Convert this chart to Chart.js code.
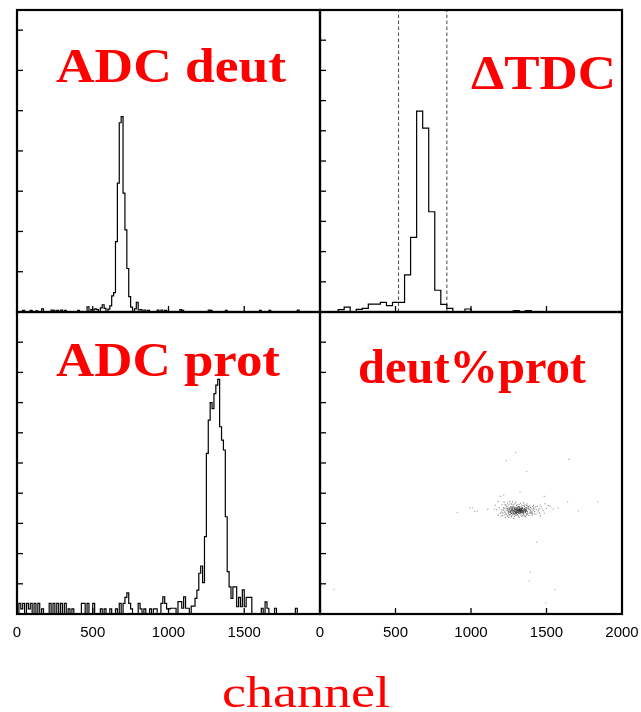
<!DOCTYPE html>
<html><head><meta charset="utf-8">
<script src="https://cdn.jsdelivr.net/npm/chart.js@4/dist/chart.umd.min.js"></script>
<style>
html,body{margin:0;padding:0;background:#fff;}
#wrap{position:relative;width:641px;height:712px;overflow:hidden;background:#fff;}
#wrap canvas{position:absolute;left:0;top:0;}
</style></head><body>
<div id="wrap">
<canvas id="cTL" width="641" height="712"></canvas>
<canvas id="cTR" width="641" height="712"></canvas>
<canvas id="cBL" width="641" height="712"></canvas>
<canvas id="cBR" width="641" height="712"></canvas>
</div>
<script>
// ---------------- DATA ----------------
const channelRange = [0, 2000];
const xTickValues = [500, 1000, 1500];
const leftTickLabels = [0, 500, 1000, 1500];
const rightTickLabels = [0, 500, 1000, 1500, 2000];

// ADC deut histogram (bin width 12.5 channels): bin lower edges and contents
const deutBinWidth = 12.5;
const deutEdges = [37.5, 87.5, 125, 162.5, 225, 237.5, 262.5, 287.5, 312.5, 400, 462.5, 487.5, 500, 512.5, 525, 550, 562.5, 575, 600,
  612.5, 625, 637.5, 650, 662.5, 675, 687.5, 700, 712.5, 725, 737.5, 750,
  775, 787.5, 800, 812.5, 837.5, 862.5, 925, 950, 975, 1075, 1087.5, 1262.5, 1275, 1375, 1600, 1662.5, 1850];
const deutCounts = [0.4, 0.4, 0.3, 0.8, 0.5, 0.4, 0.4, 0.5, 0.4, 0.4, 1.3, 0.6, 0.5, 0.8, 0.6, 1.0, 1.8, 0.9, 0.7,
  1.5, 4.0, 4.8, 17.5, 32, 47, 48.5, 29.5, 20.4, 10.8, 3.8, 1.2,
  0.8, 2.4, 0.5, 0.6, 0.5, 0.4, 0.5, 0.5, 0.4, 0.6, 0.4, 0.5, 0.4, 0.4, 0.4, 0.4, 0.5];
const deutYMax = 75;
const deutYTicks = [10, 20, 30, 40, 50, 60, 70];

// Delta TDC histogram (bin width 40 channels)
const tdcBinWidth = 40;
const tdcEdges = [120, 160, 240, 280, 320, 360, 400, 440, 480, 520, 560, 600, 640, 680, 720, 760, 800, 840, 960, 1280, 1360];
const tdcCounts = [0.8, 1.6, 0.9, 1.2, 2.6, 2.6, 3.2, 2.1, 3.2, 3.2, 12.3, 24.7, 66.5, 60.9, 33.2, 7.2, 2.5, 1.2, 1.0, 0.5, 0.5];
const tdcCuts = [520, 840];
const tdcYMax = 100;
const tdcYTicks = [10, 20, 30, 40, 50, 60, 70, 80, 90];

// ADC prot histogram (bin width 12.5 channels)
const protBinWidth = 12.5;
const protEdges = [12.5, 25, 37.5, 62.5, 75, 87.5, 112.5, 137.5, 162.5, 212.5, 237.5, 262.5, 287.5, 312.5, 337.5, 362.5,
  425, 437.5, 462.5, 500, 550, 575, 612.5, 650, 675, 700, 712.5, 725, 737.5, 750, 800, 812.5, 837.5, 875, 900, 912.5,
  950, 962.5, 975, 987.5, 1000, 1012.5, 1025, 1037.5, 1062.5, 1075, 1087.5, 1100, 1112.5, 1125,
  1150, 1162.5, 1175, 1187.5, 1200, 1212.5, 1225, 1237.5, 1250, 1262.5, 1275, 1287.5, 1300, 1312.5, 1325, 1337.5,
  1350, 1362.5, 1375, 1387.5, 1400, 1412.5, 1425, 1437.5, 1450, 1462.5, 1475, 1487.5, 1500, 1512.5, 1525, 1537.5,
  1612.5, 1637.5, 1650, 1700, 1837.5];
const protCounts = [3.5, 1.7, 3.5, 3.5, 1.7, 3.5, 3.5, 3.5, 1.7, 3.5, 3.5, 3.5, 3.5, 3.5, 1.7, 1.7,
  3.5, 3.5, 3.5, 3.5, 1.7, 1.7, 1.7, 1.7, 3.5, 3.5, 5.5, 7.0, 3.5, 1.7, 3.5, 1.7, 1.7, 1.7, 1.7, 1.7,
  3.5, 5.7, 3.5, 1.7, 1.7, 1.9, 1.9, 1.9, 4.1, 4.1, 1.9, 5.7, 1.9, 1.9,
  2.6, 2.6, 5.2, 7.9, 13.5, 15.9, 10.4, 25.6, 53.2, 64.2, 70, 68, 73, 75.8, 77.7, 62,
  57.6, 54.3, 32.2, 14, 9, 5.2, 9, 9, 2.4, 5.5, 2.4, 8, 2.4, 5.5, 5.5, 5.5,
  1.9, 4.0, 1.9, 1.9, 1.9];
const protYMax = 100;
const protYTicks = [10, 20, 30, 40, 50, 60, 70, 80, 90];

// deut vs prot scatter (x = prot channel, y = deut channel)
const corePoints = [
  [1248,668],[1255,690],[1262,676],[1270,701],[1276,662],[1281,684],[1288,695],[1293,671],[1299,688],[1305,706],[1311,679],[1316,692],
  [1322,665],[1328,700],[1333,683],[1339,672],[1345,694],[1351,681],[1357,699],[1362,670],[1368,688],[1374,677],[1380,695],
  [1252,703],[1259,659],[1266,688],[1273,680],[1279,713],[1285,657],[1291,706],[1297,663],[1302,676],[1308,660],[1314,712],[1319,674],
  [1325,688],[1331,668],[1336,709],[1342,686],[1348,662],[1354,714],[1359,683],[1365,705],[1371,663],[1377,709],
  [1244,684],[1257,674],[1268,665],[1283,702],[1295,681],[1303,694],[1312,686],[1320,701],[1329,678],[1341,698],[1352,691],[1363,680],
  [1240,696],[1264,711],[1287,678],[1301,668],[1317,683],[1334,693],[1347,675],[1360,692],[1272,692],[1292,690],[1306,684],[1326,675],
  [1338,681],[1278,673],[1300,700],[1315,668],[1324,694],[1356,689],[1284,688],[1296,676],[1310,696],[1321,684],[1331,690],[1343,679],
  [1267,684],[1289,664],[1304,689],[1318,706],[1350,670],[1275,696],[1309,672],[1327,686],[1340,704],[1261,681],
  [1250,678],[1258,697],[1265,671],[1274,707],[1282,667],[1290,699],[1298,670],[1307,702],[1313,676],[1321,693],[1330,672],[1337,697],
  [1344,668],[1353,700],[1361,676],[1369,697],[1246,690],[1278,685],[1294,694],[1308,690],[1323,679],[1336,686],[1349,684],[1366,684],
  [1286,682],[1302,682],[1318,690],[1332,697]
];
const haloPoints = [
  [1195,668],[1203,690],[1210,652],[1216,705],[1222,676],[1228,641],[1231,722],[1236,660],[1243,735],[1250,640],[1258,728],[1267,645],
  [1275,742],[1284,632],[1296,740],[1306,724],[1318,640],[1327,733],[1337,646],[1349,736],[1361,645],[1372,728],[1383,652],[1390,716],
  [1396,672],[1404,700],[1411,684],[1419,662],[1426,708],[1433,690],[1442,675],[1452,697],[1214,688],[1225,700],[1389,690],[1399,665],
  [1409,712],[1418,693],[1232,684],[1393,681],[1160,720],[1170,690],[1180,655],[1465,710],[1478,684],[1490,730],[1500,700],[1512,718],
  [1180,745],[1460,650],
  [1188,702],[1199,647],[1206,724],[1212,668],[1219,741],[1224,657],[1237,712],[1241,650],[1246,722],[1253,655],[1256,745],[1263,700],
  [1269,728],[1271,652],[1280,723],[1286,646],[1290,730],[1298,653],[1302,718],[1313,650],[1319,725],[1323,712],[1330,655],[1335,722],
  [1344,653],[1346,718],[1353,650],[1358,724],[1366,656],[1370,718],[1376,660],[1381,712],[1386,668],[1394,705],[1402,676],[1407,655],
  [1414,720],[1422,678],[1430,660],[1438,712],[1447,688],[1455,668],[1470,695],[1485,667],[1205,676],[1218,695],[1229,668],[1238,702],
  [1226,724],[1384,700],[1397,688],[1406,668],[1415,701]
];
const outlierPoints = [
  [1295,1068],[1234,1015],[1649,1024],[1369,945],[1325,806],[1194,779],[1217,786],[1485,779],[1640,742],[1839,742],
  [909,671],[991,704],[1009,704],[1024,680],[1042,680],[1111,693],[1154,695],[1711,682],[1435,475],[1393,276],
  [1386,219],[1556,161],[1495,73],[93,164],[1457,722],[1523,712],[1543,695],[1576,702]
];
const scatterYMax = 2000;
const scatterYTicks = [200, 400, 600, 800, 1000, 1200, 1400, 1600, 1800];

const titles = { tl: 'ADC deut', tr: '\u0394TDC', bl: 'ADC prot', br: 'deut%prot' };
const axisTitle = 'channel';

// ---------------- BUILD ----------------
function histPoints(width, edges, counts) {
  const m = new Map();
  edges.forEach((e, i) => m.set(e, counts[i]));
  const pts = [];
  for (let e = channelRange[0]; e < channelRange[1] - 1e-9; e += width) pts.push({ x: e, y: m.get(e) || 0 });
  pts.push({ x: channelRange[1], y: 0 });
  return pts;
}
const toXY = arr => arr.map(p => ({ x: p[0], y: p[1] }));

const W = 641, H = 712;
const panels = {
  tl: { left: 17, right: 320, top: 10, bottom: 312 },
  tr: { left: 320, right: 622, top: 10, bottom: 312 },
  bl: { left: 17, right: 320, top: 312, bottom: 614 },
  br: { left: 320, right: 622, top: 312, bottom: 614 }
};
function pad(p) { return { left: p.left, top: p.top, right: W - p.right, bottom: H - p.bottom }; }

function fitText(ctx, text, left, right, baseline, size, weight) {
  ctx.save();
  ctx.font = weight + ' ' + size + 'px "Liberation Serif"';
  ctx.fillStyle = '#ff0000';
  ctx.textAlign = 'left';
  ctx.textBaseline = 'alphabetic';
  const w = ctx.measureText(text).width;
  ctx.translate(left, baseline);
  ctx.scale((right - left) / w, 1);
  ctx.fillText(text, 0, 0);
  ctx.restore();
}

function panelPlugin(opt) {
  return {
    id: 'panelDeco',
    afterDraw(chart) {
      const ctx = chart.ctx, a = chart.chartArea, xs = chart.scales.x, ys = chart.scales.y;
      ctx.save();
      ctx.strokeStyle = '#000';
      ctx.lineWidth = 1.3;
      opt.yTicks.forEach(v => {
        const py = ys.getPixelForValue(v);
        ctx.beginPath(); ctx.moveTo(a.left, py); ctx.lineTo(a.left + 6, py); ctx.stroke();
      });
      xTickValues.forEach(v => {
        const px = xs.getPixelForValue(v);
        ctx.beginPath(); ctx.moveTo(px, a.bottom); ctx.lineTo(px, a.bottom - 6); ctx.stroke();
      });
      ctx.lineWidth = 2.2;
      ctx.strokeRect(a.left, a.top, a.right - a.left, a.bottom - a.top);
      if (opt.labels) {
        ctx.fillStyle = '#000';
        ctx.font = '15px "Liberation Sans"';
        ctx.textAlign = 'center';
        ctx.textBaseline = 'alphabetic';
        opt.labels.forEach(v => ctx.fillText(String(v), xs.getPixelForValue(v), a.bottom + 23));
      }
      ctx.restore();
      const t = opt.title;
      fitText(ctx, t.text, t.left, t.right, t.baseline, t.size, 'bold');
      if (opt.extra) { const e = opt.extra; fitText(ctx, e.text, e.left, e.right, e.baseline, e.size, 'normal'); }
    }
  };
}

function baseOptions(p, yMax) {
  return {
    responsive: false, animation: false, events: [],
    layout: { padding: pad(p) },
    scales: {
      x: { type: 'linear', min: channelRange[0], max: channelRange[1], display: false },
      y: { type: 'linear', min: 0, max: yMax, display: false }
    },
    plugins: { legend: { display: false }, tooltip: { enabled: false }, title: { display: false } }
  };
}
function histDataset(pts) {
  return { data: pts, stepped: 'before', borderColor: '#000', borderWidth: 1.2, pointRadius: 0, fill: false, tension: 0 };
}

new Chart(document.getElementById('cTL'), {
  type: 'line',
  data: { datasets: [histDataset(histPoints(deutBinWidth, deutEdges, deutCounts))] },
  options: baseOptions(panels.tl, deutYMax),
  plugins: [panelPlugin({ yTicks: deutYTicks, labels: null, title: { text: titles.tl, left: 56, right: 286, baseline: 82, size: 48 } })]
});

const cutSets = tdcCuts.map(c => ({
  data: [{ x: c, y: 0 }, { x: c, y: tdcYMax }], borderColor: '#555', borderWidth: 1.1, borderDash: [3.5, 2.5],
  pointRadius: 0, fill: false
}));
new Chart(document.getElementById('cTR'), {
  type: 'line',
  data: { datasets: [histDataset(histPoints(tdcBinWidth, tdcEdges, tdcCounts)), ...cutSets] },
  options: baseOptions(panels.tr, tdcYMax),
  plugins: [panelPlugin({ yTicks: tdcYTicks, labels: null, title: { text: titles.tr, left: 471, right: 616, baseline: 89, size: 48 } })]
});

new Chart(document.getElementById('cBL'), {
  type: 'line',
  data: { datasets: [histDataset(histPoints(protBinWidth, protEdges, protCounts))] },
  options: baseOptions(panels.bl, protYMax),
  plugins: [panelPlugin({ yTicks: protYTicks, labels: leftTickLabels, title: { text: titles.bl, left: 56, right: 280, baseline: 376, size: 48 } })]
});

new Chart(document.getElementById('cBR'), {
  type: 'scatter',
  data: { datasets: [
    { data: toXY(outlierPoints), pointStyle: 'rect', pointRadius: 0.75, borderWidth: 0, backgroundColor: 'rgba(0,0,0,0.4)' },
    { data: toXY(haloPoints), pointStyle: 'rect', pointRadius: 0.75, borderWidth: 0, backgroundColor: 'rgba(0,0,0,0.5)' },
    { data: toXY(corePoints), pointStyle: 'rect', pointRadius: 0.75, borderWidth: 0, backgroundColor: 'rgba(0,0,0,0.7)' }
  ] },
  options: baseOptions(panels.br, scatterYMax),
  plugins: [panelPlugin({ yTicks: scatterYTicks, labels: rightTickLabels,
    title: { text: titles.br, left: 358, right: 586, baseline: 383, size: 48 },
    extra: { text: axisTitle, left: 222, right: 390, baseline: 707, size: 45 } })]
});
</script>
</body></html>
